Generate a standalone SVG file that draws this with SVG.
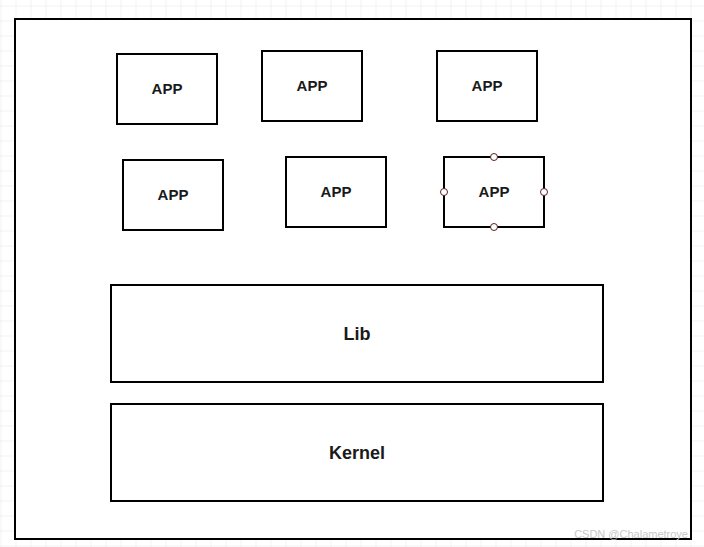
<svg xmlns="http://www.w3.org/2000/svg" width="704" height="547" viewBox="0 0 704 547">
<defs>
<pattern id="grid" x="0.5" y="5.5" width="15" height="15" patternUnits="userSpaceOnUse">
<path d="M0 0H15M0 0V15" fill="none" stroke="#e6e6e6" stroke-width="1"/>
</pattern>
<style>
.box{fill:#fff;stroke:#000;stroke-width:2}
.t{font-family:"Liberation Sans",Arial,sans-serif;font-weight:bold;font-size:15px;fill:#1a1a1a;text-anchor:middle;dominant-baseline:central}
.big{font-size:18px}
.h{fill:#fff;stroke:#5a2020;stroke-width:1}
</style>
</defs>
<rect x="0" y="0" width="704" height="547" fill="#fff"/>
<rect x="0" y="0" width="704" height="547" fill="url(#grid)"/>
<g id="frame"><rect x="15" y="19" width="676" height="520" fill="#fff" stroke="#000" stroke-width="2"/></g>
<g id="app1"><rect class="box" x="117" y="54" width="100" height="70"/><text class="t" x="167" y="88">APP</text></g>
<g id="app2"><rect class="box" x="262" y="51" width="100" height="70"/><text class="t" x="312" y="85">APP</text></g>
<g id="app3"><rect class="box" x="437" y="51" width="100" height="70"/><text class="t" x="487" y="85">APP</text></g>
<g id="app4"><rect class="box" x="123" y="160" width="100" height="70"/><text class="t" x="173" y="194">APP</text></g>
<g id="app5"><rect class="box" x="286" y="157" width="100" height="70"/><text class="t" x="336" y="191">APP</text></g>
<g id="app6"><rect class="box" x="444" y="157" width="100" height="70"/><text class="t" x="494" y="191">APP</text>
<circle class="h" cx="494" cy="157" r="3.5"/><circle class="h" cx="494" cy="227" r="3.5"/><circle class="h" cx="444" cy="192" r="3.5"/><circle class="h" cx="544" cy="192" r="3.5"/></g>
<g id="lib"><rect class="box" x="111" y="285" width="492" height="97"/><text class="t big" x="357" y="334">Lib</text></g>
<g id="kernel"><rect class="box" x="111" y="404" width="492" height="97"/><text class="t big" x="357" y="453">Kernel</text></g>
<g id="connectors"/>
<text x="688" y="538" font-family="Liberation Sans,Arial,sans-serif" font-size="11" fill="#c8c8c8" text-anchor="end">CSDN @Chalametroye</text>
</svg>
